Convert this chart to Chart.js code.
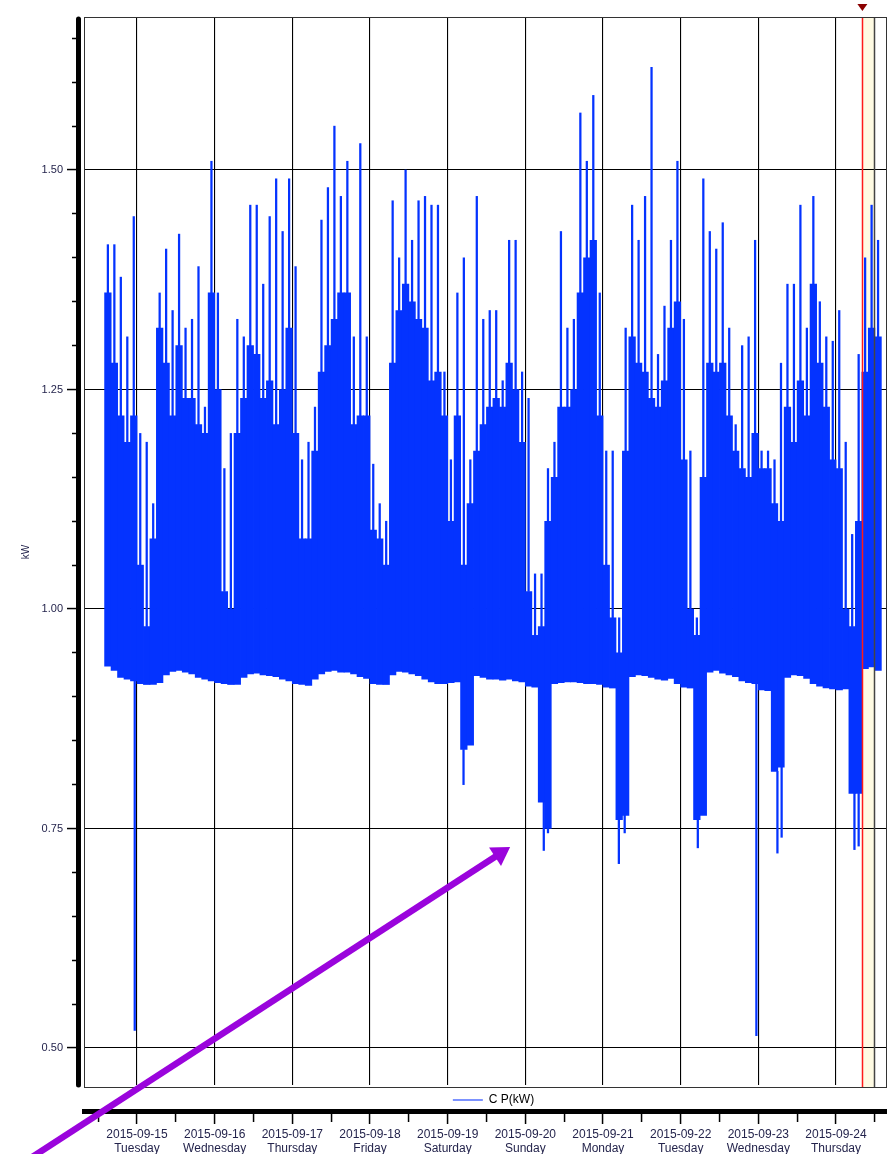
<!DOCTYPE html>
<html>
<head>
<meta charset="utf-8">
<script src="https://cdn.jsdelivr.net/npm/chart.js@4.4.1/dist/chart.umd.min.js"></script>
<style>
  html, body { margin: 0; padding: 0; background: #fff; }
</style>
</head>
<body>
<canvas id="powerChart" width="887" height="1154"></canvas>
<script>
// hours are counted from 2015-09-14 00:00, one value per 2-hour bin
var startHour = 14;
var binHours = 2;

var floorKW = [
  0.935, 0.93, 0.922, 0.92, 0.918, 0.915, 0.914, 0.914, 0.916, 0.925,
  0.929, 0.93, 0.928, 0.926, 0.922, 0.92, 0.918, 0.916, 0.915, 0.914,
  0.914, 0.922, 0.926, 0.927, 0.925, 0.924, 0.923, 0.92, 0.918, 0.915,
  0.914, 0.913, 0.92, 0.926, 0.929, 0.93, 0.928, 0.928, 0.926, 0.923,
  0.921, 0.915, 0.914, 0.914, 0.925, 0.929, 0.928, 0.926, 0.924, 0.92,
  0.917, 0.915, 0.915, 0.916, 0.917, 0.84, 0.845, 0.924, 0.922, 0.92,
  0.92, 0.919, 0.92, 0.918, 0.917, 0.912, 0.911, 0.78, 0.75, 0.915,
  0.916, 0.917, 0.917, 0.916, 0.915, 0.915, 0.914, 0.911, 0.91, 0.76,
  0.765, 0.923, 0.925, 0.924, 0.922, 0.92, 0.919, 0.921, 0.915, 0.911,
  0.91, 0.76, 0.765, 0.928, 0.93, 0.927, 0.925, 0.923, 0.918, 0.916,
  0.915, 0.908, 0.907, 0.815, 0.82, 0.922, 0.925, 0.924, 0.921, 0.915,
  0.912, 0.91, 0.909, 0.908, 0.909, 0.79, 0.79, 0.932, 0.934, 0.93
];
var denseTopKW = [
  1.36, 1.28, 1.22, 1.19, 1.22, 1.05, 0.98, 1.08, 1.32, 1.28,
  1.22, 1.30, 1.24, 1.24, 1.21, 1.20, 1.36, 1.25, 1.02, 1.00,
  1.20, 1.24, 1.30, 1.29, 1.24, 1.26, 1.21, 1.25, 1.32, 1.20,
  1.08, 1.08, 1.18, 1.27, 1.30, 1.33, 1.36, 1.36, 1.21, 1.22,
  1.22, 1.09, 1.08, 1.05, 1.28, 1.34, 1.37, 1.35, 1.33, 1.32,
  1.26, 1.27, 1.22, 1.10, 1.22, 1.05, 1.12, 1.18, 1.21, 1.23,
  1.24, 1.23, 1.28, 1.25, 1.19, 1.02, 0.97, 0.98, 1.10, 1.15,
  1.23, 1.23, 1.25, 1.36, 1.40, 1.42, 1.22, 1.05, 0.99, 0.95,
  1.18, 1.31, 1.28, 1.27, 1.24, 1.23, 1.26, 1.32, 1.35, 1.17,
  1.00, 0.97, 1.15, 1.28, 1.27, 1.28, 1.22, 1.18, 1.16, 1.15,
  1.20, 1.16, 1.16, 1.12, 1.10, 1.23, 1.19, 1.26, 1.22, 1.37,
  1.28, 1.23, 1.17, 1.16, 1.00, 0.98, 1.10, 1.27, 1.32, 1.31
];
var peakKW = [
  1.415, 1.415, 1.378, 1.31, 1.447, 1.20, 1.19, 1.12, 1.36, 1.41,
  1.34, 1.427, 1.32, 1.33, 1.39, 1.23, 1.51, 1.36, 1.16, 1.20,
  1.33, 1.31, 1.46, 1.46, 1.37, 1.447, 1.49, 1.43, 1.49, 1.39,
  1.17, 1.19, 1.23, 1.443, 1.48, 1.55, 1.47, 1.51, 1.31, 1.53,
  1.31, 1.165, 1.12, 1.10, 1.465, 1.40, 1.50, 1.42, 1.465, 1.47,
  1.46, 1.46, 1.27, 1.17, 1.36, 1.40, 1.17, 1.47, 1.33, 1.34,
  1.34, 1.26, 1.42, 1.42, 1.27, 1.24, 1.04, 1.04, 1.16, 1.19,
  1.43, 1.32, 1.33, 1.565, 1.51, 1.585, 1.36, 1.18, 1.18, 0.99,
  1.32, 1.46, 1.42, 1.47, 1.617, 1.29, 1.345, 1.42, 1.51, 1.33,
  1.18, 0.99, 1.49, 1.43, 1.41, 1.44, 1.32, 1.21, 1.30, 1.31,
  1.42, 1.18, 1.18, 1.17, 1.28, 1.37, 1.37, 1.46, 1.32, 1.47,
  1.35, 1.31, 1.305, 1.34, 1.19, 1.085, 1.29, 1.40, 1.46, 1.42
];

// short downward drops
var dipHours = [23.3, 124.9, 149.7, 151.0, 172.9, 174.7, 197.3, 215.4, 221.9, 223.2, 245.7, 247.0];
var dipKW = [0.52, 0.80, 0.725, 0.745, 0.71, 0.745, 0.728, 0.514, 0.722, 0.74, 0.726, 0.73];

var dayTickHours = [24, 48, 72, 96, 120, 144, 168, 192, 216, 240];
var halfDayTickHours = [12, 36, 60, 84, 108, 132, 156, 180, 204, 228, 252];
var dayLabels = ['2015-09-15', '2015-09-16', '2015-09-17', '2015-09-18', '2015-09-19',
                 '2015-09-20', '2015-09-21', '2015-09-22', '2015-09-23', '2015-09-24'];
var weekdayLabels = ['Tuesday', 'Wednesday', 'Thursday', 'Friday', 'Saturday',
                     'Sunday', 'Monday', 'Tuesday', 'Wednesday', 'Thursday'];
var yTickValues = [0.50, 0.55, 0.60, 0.65, 0.70, 0.75, 0.80, 0.85, 0.90, 0.95, 1.00, 1.05,
                   1.10, 1.15, 1.20, 1.25, 1.30, 1.35, 1.40, 1.45, 1.50, 1.55, 1.60, 1.65];

var cursorHour = 248.0;
var selectionEndHour = 251.75;
var arrowFrom = { hour: -12.5, kw: 0.366 };
var arrowTo = { hour: 139.3, kw: 0.729 };

var seriesBlue = '#0433ff';
var textColor = '#24244c';

function binCenter(i) { return startHour + binHours * i + binHours / 2; }
function isMajorY(v) { return Math.abs(v * 4 - Math.round(v * 4)) < 1e-6; }
function isDay(v) { return dayTickHours.indexOf(v) >= 0; }

var denseBars = floorKW.map(function (lo, i) { return { x: binCenter(i), y: [lo, denseTopKW[i]] }; });
var peakBars = floorKW.map(function (lo, i) { return { x: binCenter(i), y: [denseTopKW[i], peakKW[i]] }; });
var dipBars = dipHours.map(function (h, i) {
    var bin = Math.floor((h - startHour) / binHours);
    return { x: h, y: [dipKW[i], floorKW[bin]] };
});

var decorPlugin = {
    id: 'decor',
    afterLayout: function (chart) {
        // nudge the legend down and right so it sits centred in the gap above the time axis
        var lg = chart.legend;
        if (lg) {
            lg.top += 5; lg.bottom += 5;
            lg.left += 8; lg.right += 8;
        }
    },
    beforeDraw: function (chart) {
        var ctx = chart.ctx, a = chart.chartArea, xs = chart.scales.x;
        var x1 = xs.getPixelForValue(cursorHour), x2 = xs.getPixelForValue(selectionEndHour);
        ctx.save();
        ctx.fillStyle = '#fffbe3';
        ctx.fillRect(x1, a.top, x2 - x1, a.bottom - a.top);
        ctx.restore();
    },
    afterDatasetsDraw: function (chart) {
        var ctx = chart.ctx, a = chart.chartArea, xs = chart.scales.x;
        var x1 = xs.getPixelForValue(cursorHour), x2 = xs.getPixelForValue(selectionEndHour);
        ctx.save();
        ctx.lineWidth = 1.5;
        ctx.strokeStyle = '#444';
        ctx.beginPath();
        ctx.moveTo(Math.round(x2) + 0.5, a.top);
        ctx.lineTo(Math.round(x2) + 0.5, a.bottom);
        ctx.stroke();
        ctx.strokeStyle = '#ff1a1a';
        ctx.beginPath();
        ctx.moveTo(Math.round(x1) + 0.5, a.top);
        ctx.lineTo(Math.round(x1) + 0.5, a.bottom);
        ctx.stroke();
        // plot frame
        ctx.lineWidth = 1;
        ctx.strokeStyle = '#333';
        ctx.strokeRect(a.left + 0.5, a.top + 0.5, a.right - a.left - 1, a.bottom - a.top);
        ctx.restore();
    },
    afterDraw: function (chart) {
        var ctx = chart.ctx, a = chart.chartArea, xs = chart.scales.x, ys = chart.scales.y;
        ctx.save();
        // thick value axis line, set a little left of the frame
        ctx.strokeStyle = '#000';
        ctx.lineWidth = 5;
        ctx.lineCap = 'round';
        ctx.beginPath();
        ctx.moveTo(a.left - 5.5, a.top + 2);
        ctx.lineTo(a.left - 5.5, a.bottom - 2);
        ctx.stroke();
        // cursor marker
        var cx = xs.getPixelForValue(cursorHour);
        ctx.fillStyle = '#8b0000';
        ctx.beginPath();
        ctx.moveTo(cx - 4.5, a.top - 13);
        ctx.lineTo(cx + 5.5, a.top - 13);
        ctx.lineTo(cx + 0.5, a.top - 6);
        ctx.closePath();
        ctx.fill();
        // annotation arrow
        var px = xs.getPixelForValue(arrowFrom.hour), py = ys.getPixelForValue(arrowFrom.kw);
        var tx = xs.getPixelForValue(arrowTo.hour), ty = ys.getPixelForValue(arrowTo.kw);
        var len = Math.hypot(tx - px, ty - py);
        var ux = (tx - px) / len, uy = (ty - py) / len;
        var head = 18, half = 11;
        ctx.strokeStyle = '#9a04dc';
        ctx.fillStyle = '#9a04dc';
        ctx.lineWidth = 6.5;
        ctx.lineCap = 'butt';
        ctx.beginPath();
        ctx.moveTo(px, py);
        ctx.lineTo(tx - ux * (head - 2), ty - uy * (head - 2));
        ctx.stroke();
        ctx.beginPath();
        ctx.moveTo(tx, ty);
        ctx.lineTo(tx - ux * head - uy * half, ty - uy * head + ux * half);
        ctx.lineTo(tx - ux * head + uy * half, ty - uy * head - ux * half);
        ctx.closePath();
        ctx.fill();
        ctx.restore();
    }
};

var powerChart = new Chart(document.getElementById('powerChart').getContext('2d'), {
    type: 'bar',
    data: {
        datasets: [{
            label: 'C P(kW)',
            data: denseBars,
            backgroundColor: seriesBlue,
            borderWidth: 0,
            barThickness: 6.6,
            grouped: false,
            order: 3
        }, {
            label: 'peaks',
            data: peakBars,
            backgroundColor: seriesBlue,
            borderWidth: 0,
            barThickness: 1.6,
            grouped: false,
            order: 2
        }, {
            label: 'dips',
            data: dipBars,
            backgroundColor: seriesBlue,
            borderWidth: 0,
            barThickness: 1.6,
            grouped: false,
            order: 1
        }]
    },
    options: {
        responsive: false,
        animation: false,
        events: [],
        layout: { padding: { top: 17, right: 0, left: 0, bottom: 0 } },
        plugins: {
            tooltip: { enabled: false },
            legend: {
                position: 'bottom',
                fullSize: false,
                labels: {
                    usePointStyle: true,
                    pointStyleWidth: 30,
                    padding: 2,
                    color: textColor,
                    font: { family: 'Liberation Sans', size: 12 },
                    generateLabels: function () {
                        return [{ text: 'C P(kW)', pointStyle: 'line', strokeStyle: '#2448ff', fillStyle: '#2448ff',
                                  lineWidth: 1.2, hidden: false, datasetIndex: 0 }];
                    }
                }
            }
        },
        scales: {
            x: {
                type: 'linear',
                min: 7.62,
                max: 255.76,
                offset: false,
                weight: 2000,
                afterBuildTicks: function (axis) {
                    axis.ticks = halfDayTickHours.concat(dayTickHours).sort(function (a, b) { return a - b; })
                        .map(function (v) { return { value: v }; });
                },
                afterFit: function (axis) { axis.height = 43; },
                grid: {
                    offset: false,
                    color: function (c) { return c.tick && isDay(c.tick.value) ? '#000' : 'rgba(0,0,0,0)'; },
                    lineWidth: 1.1,
                    tickColor: '#000',
                    tickLength: 13,
                    tickWidth: 1.5,
                    tickBorderDash: function (c) { return c.tick && isDay(c.tick.value) ? [] : [8, 40]; }
                },
                border: { display: true, color: '#000', width: 5 },
                ticks: {
                    autoSkip: false,
                    maxRotation: 0,
                    padding: 4,
                    color: textColor,
                    font: { family: 'Liberation Sans', size: 12, lineHeight: 1.15 },
                    callback: function (v) {
                        var k = dayTickHours.indexOf(v);
                        return k >= 0 ? [dayLabels[k], weekdayLabels[k]] : '';
                    }
                }
            },
            y: {
                type: 'linear',
                min: 0.4556,
                max: 1.6743,
                afterBuildTicks: function (axis) {
                    axis.ticks = yTickValues.map(function (v) { return { value: v }; });
                },
                afterFit: function (axis) { axis.width = 84; },
                grid: {
                    color: function (c) { return c.tick && isMajorY(c.tick.value) ? '#000' : 'rgba(0,0,0,0)'; },
                    lineWidth: 1.1,
                    tickColor: '#000',
                    tickLength: 17,
                    tickWidth: 1.5,
                    tickBorderDash: function (c) { return c.tick && isMajorY(c.tick.value) ? [9, 40] : [0, 5, 4, 40]; }
                },
                border: { display: false },
                ticks: {
                    autoSkip: false,
                    padding: 4,
                    color: textColor,
                    font: { family: 'Liberation Sans', size: 11 },
                    callback: function (v) { return isMajorY(v) ? v.toFixed(2) : ''; }
                },
                title: {
                    display: true,
                    text: 'kW',
                    color: textColor,
                    font: { family: 'Liberation Sans', size: 10 },
                    padding: { top: 20, bottom: 0 }
                }
            }
        }
    },
    plugins: [decorPlugin]
});
</script>
</body>
</html>
